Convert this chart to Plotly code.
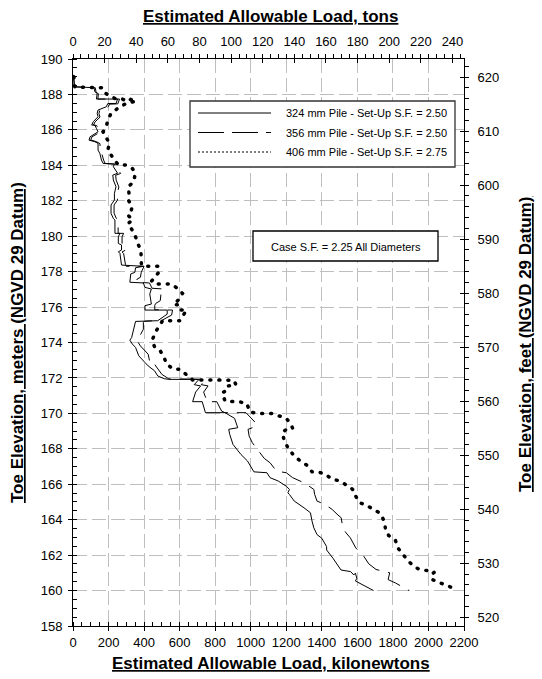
import plotly.graph_objects as go

# ---- 324 mm pile, set-up S.F. = 2.50 (load kN, toe elevation m) ----
load_324 = [3, 8, 118, 123, 136, 132, 251, 242, 196, 187, 141, 136, 141, 114, 105, 123, 132, 141,
            96, 90, 123, 141, 141, 151, 160, 169, 233, 227, 251, 224, 227, 242, 233, 233, 214, 214,
            227, 236, 236, 264, 255, 255, 273, 273, 255, 264, 273, 396, 352, 348, 325, 320, 396,
            405, 441, 432, 441, 405, 405, 530, 530, 477, 352, 343, 330, 320, 334, 352, 370, 405,
            423, 459, 477, 513, 539, 709, 682, 718, 690, 673, 727, 745, 855, 909, 927, 876, 882,
            900, 945, 982, 1009, 1018, 1091, 1109, 1155, 1200, 1218, 1209, 1218, 1245, 1300, 1336,
            1345, 1355, 1373, 1400, 1427, 1427, 1463, 1508, 1562, 1580, 1589, 1597, 1589, 1615,
            1651, 1691]
elev_324 = [189.10, 188.43, 188.38, 188.15, 188.06, 187.74, 187.74, 187.49, 187.49, 187.30, 187.12,
            186.93, 186.74, 186.46, 186.27, 186.27, 186.08, 185.89, 185.61, 185.42, 185.33, 185.24,
            184.86, 184.67, 184.30, 184.11, 184.07, 183.92, 183.55, 183.45, 183.17, 182.79, 182.42,
            182.04, 181.76, 181.29, 181.00, 180.91, 180.16, 180.16, 179.97, 179.59, 179.50, 179.22,
            179.12, 179.03, 178.37, 178.30, 178.22, 177.96, 177.87, 177.40, 177.36, 177.11, 177.02,
            176.74, 176.17, 176.08, 175.83, 175.83, 175.60, 175.23, 175.19, 174.85, 174.28, 174.13,
            173.91, 173.72, 173.25, 172.87, 172.68, 172.40, 172.11, 171.96, 171.92, 171.92, 171.62,
            171.55, 171.20, 170.66, 170.66, 170.04, 170.04, 169.72, 169.19, 169.10, 168.81, 168.25,
            167.68, 167.31, 166.84, 166.70, 166.65, 166.37, 166.18, 165.89, 165.71, 165.52, 165.42,
            165.05, 164.67, 164.39, 163.92, 163.54, 163.16, 162.95, 162.48, 162.29, 161.82, 161.16,
            161.07, 160.88, 160.98, 160.69, 160.54, 160.41, 160.22, 160.00]

# ---- 356 mm pile, set-up S.F. = 2.50 ----
load_356 = [3, 8, 125, 130, 143, 140, 262, 252, 206, 197, 150, 146, 152, 124, 115, 133, 142, 152,
            106, 100, 133, 152, 152, 162, 172, 181, 250, 244, 268, 240, 243, 258, 250, 250, 231, 231,
            244, 254, 254, 285, 276, 276, 295, 295, 276, 285, 295, 300, 400, 384, 379, 361, 355, 430,
            445, 509, 509, 495, 491, 465, 460, 460, 560, 555, 500, 400, 396, 396, 380, 361, 379, 405,
            423, 430, 432, 459, 477, 500, 539, 745, 722, 760, 735, 755, 809, 836, 855, 918, 973, 1036,
            1009, 985, 991, 1009, 1036, 1076, 1109, 1145, 1200, 1236, 1300, 1355, 1360, 1373, 1418,
            1458, 1491, 1509, 1518, 1536, 1560, 1585, 1591, 1609, 1636, 1664, 1705, 1782, 1773, 1814,
            1891]
elev_356 = [189.10, 188.43, 188.38, 188.12, 188.04, 187.74, 187.74, 187.47, 187.45, 187.28, 187.10,
            186.91, 186.72, 186.45, 186.27, 186.25, 186.06, 185.87, 185.60, 185.43, 185.33, 185.22,
            184.85, 184.66, 184.30, 184.10, 184.06, 183.90, 183.54, 183.44, 183.16, 182.78, 182.41,
            182.03, 181.76, 181.30, 181.00, 180.90, 180.16, 180.16, 179.96, 179.58, 179.49, 179.21,
            179.11, 179.02, 178.40, 178.30, 178.30, 177.96, 177.68, 177.58, 177.40, 177.36, 177.06,
            177.02, 176.83, 176.74, 176.36, 176.20, 176.10, 175.85, 175.83, 175.55, 175.25, 175.20,
            175.13, 174.75, 174.45, 174.09, 173.81, 173.53, 173.34, 173.00, 172.77, 172.77, 172.49,
            172.20, 171.95, 171.92, 171.62, 171.55, 171.20, 170.66, 170.66, 170.13, 170.04, 170.04,
            170.04, 169.38, 169.19, 169.10, 168.72, 168.34, 167.97, 167.46, 167.21, 166.74, 166.65,
            166.37, 166.08, 165.71, 165.42, 165.05, 164.86, 164.58, 164.26, 164.11, 163.54, 163.26,
            162.98, 162.56, 162.41, 162.22, 161.94, 161.51, 161.19, 161.00, 160.62, 160.43, 160.00]

# ---- 406 mm pile, set-up S.F. = 2.75 ----
load_406 = [5, 10, 165, 183, 242, 278, 306, 324, 355, 300, 251, 214, 196, 187, 169, 187, 205, 196,
            214, 233, 256, 297, 333, 351, 342, 311, 315, 311, 333, 324, 309, 336, 309, 345, 355, 364,
            382, 382, 385, 396, 441, 480, 486, 459, 441, 477, 512, 552, 593, 616, 598, 566, 598, 605,
            638, 623, 602, 575, 545, 504, 486, 468, 445, 459, 491, 513, 527, 566, 602, 638, 673, 905,
            918, 873, 869, 840, 855, 942, 978, 996, 1036, 1118, 1155, 1200, 1227, 1236, 1200, 1178,
            1187, 1209, 1240, 1276, 1318, 1345, 1382, 1422, 1454, 1491, 1524, 1564, 1582, 1585, 1614,
            1654, 1685, 1724, 1742, 1754, 1758, 1776, 1814, 1827, 1858, 1882, 1918, 1949, 1991, 2033,
            2018, 2022, 2051, 2091, 2127]
elev_406 = [189.00, 188.42, 188.38, 188.06, 187.74, 187.74, 187.59, 187.72, 187.62, 187.50, 187.21,
            186.93, 186.55, 186.18, 185.89, 185.52, 185.24, 184.86, 184.58, 184.30, 184.02, 184.02,
            183.83, 183.58, 183.08, 182.79, 182.42, 182.04, 181.67, 181.29, 181.19, 180.91, 180.72,
            180.16, 179.88, 179.59, 179.22, 178.84, 178.37, 178.30, 178.30, 178.30, 178.00, 177.68,
            177.45, 177.30, 177.30, 177.30, 177.02, 176.77, 176.45, 176.13, 176.13, 175.83, 175.83,
            175.57, 175.23, 175.23, 175.23, 175.23, 174.94, 174.66, 174.13, 173.75, 173.53, 173.15,
            172.77, 172.49, 172.49, 172.17, 171.89, 171.87, 171.60, 171.55, 171.30, 171.17, 170.70,
            170.64, 170.55, 170.08, 170.00, 170.00, 169.89, 169.72, 169.38, 169.15, 169.10, 168.91,
            168.53, 168.06, 167.65, 167.34, 167.06, 166.70, 166.69, 166.55, 166.31, 166.21, 166.04,
            165.80, 165.61, 165.42, 164.95, 164.80, 164.61, 164.39, 164.11, 163.82, 163.48, 163.11,
            162.84, 162.41, 162.03, 161.71, 161.37, 161.19, 161.13, 161.04, 160.90, 160.62, 160.49,
            160.34, 160.19]

legend_labels = ["324 mm Pile - Set-Up S.F. = 2.50",
                 "356 mm Pile - Set-Up S.F. = 2.50",
                 "406 mm Pile - Set-Up S.F. = 2.75"]
case_note = "Case S.F. = 2.25 All Diameters"

KN_PER_TON = 8.896443
FT_PER_M = 3.280840
KN_RANGE = [0, 2200]
M_RANGE = [158, 190]
TON_RANGE = [KN_RANGE[0] / KN_PER_TON, KN_RANGE[1] / KN_PER_TON]
FT_RANGE = [M_RANGE[0] * FT_PER_M, M_RANGE[1] * FT_PER_M]

FONT = "Arial, Liberation Sans, sans-serif"
TICKFONT = dict(family=FONT, size=13, color="black")

fig = go.Figure()
fig.add_trace(go.Scatter(x=load_324, y=elev_324, mode="lines",
                         line=dict(color="black", width=1), showlegend=False, hoverinfo="skip"))
fig.add_trace(go.Scatter(x=load_356, y=elev_356, mode="lines",
                         line=dict(color="black", width=1, dash="22px,9px"),
                         showlegend=False, hoverinfo="skip"))
fig.add_trace(go.Scatter(x=load_406, y=elev_406, mode="lines",
                         line=dict(color="black", width=3.5, dash="1px,8px"),
                         showlegend=False, hoverinfo="skip"))

# empty traces so every secondary axis has a subplot to live on
for xa, ya in [("x2", "y"), ("x", "y2"), ("x3", "y"), ("x4", "y"), ("x", "y3"), ("x", "y4")]:
    fig.add_trace(go.Scatter(x=[None], y=[None], xaxis=xa, yaxis=ya, mode="lines",
                             showlegend=False, hoverinfo="skip"))

grid = dict(showgrid=True, gridcolor="#bebebe", gridwidth=1, griddash="14px,5px")
line = dict(showline=True, linecolor="black", linewidth=1, zeroline=False)
major = dict(ticks="outside", ticklen=4, tickwidth=1, tickcolor="black")
cross = dict(ticks="inside", ticklen=4, tickwidth=1, tickcolor="black",
             showticklabels=False, showgrid=False, showline=False, zeroline=False)

fig.update_layout(
    width=542, height=679, autosize=False,
    margin=dict(l=73, r=78, t=59, b=53),
    paper_bgcolor="white", plot_bgcolor="white",
    showlegend=False,
    xaxis=dict(range=KN_RANGE, tickmode="linear", tick0=0, dtick=200, side="bottom",
               tickfont=TICKFONT, **major, **line, **grid,
               minor=dict(tick0=0, dtick=50, ticks="inside", ticklen=4, tickcolor="black",
                          showgrid=False)),
    xaxis2=dict(range=TON_RANGE, overlaying="x", side="top", anchor="y",
                tickmode="linear", tick0=0, dtick=20, tickfont=TICKFONT, showgrid=False,
                ticklabelstandoff=3, **major, **line,
                minor=dict(tick0=0, dtick=5, ticks="outside", ticklen=4, tickcolor="black",
                           showgrid=False)),
    xaxis3=dict(range=KN_RANGE, overlaying="x", side="bottom", anchor="y",
                tickmode="linear", tick0=0, dtick=200, **cross),
    xaxis4=dict(range=TON_RANGE, overlaying="x", side="top", anchor="y",
                tickmode="linear", tick0=0, dtick=20, **cross),
    yaxis=dict(range=M_RANGE, tickmode="linear", tick0=158, dtick=2, side="left",
               tickfont=TICKFONT, ticklabelstandoff=3, **major, **line, **grid,
               minor=dict(tick0=158, dtick=0.5, ticks="inside", ticklen=4, tickcolor="black",
                          showgrid=False)),
    yaxis2=dict(range=FT_RANGE, overlaying="y", side="right", anchor="x",
                tickmode="linear", tick0=520, dtick=10, tickfont=TICKFONT, showgrid=False,
                ticklabelstandoff=6, **major, **line,
                minor=dict(tick0=520, dtick=2, ticks="outside", ticklen=4, tickcolor="black",
                           showgrid=False)),
    yaxis3=dict(range=M_RANGE, overlaying="y", side="left", anchor="x",
                tickmode="linear", tick0=158, dtick=2, **cross),
    yaxis4=dict(range=FT_RANGE, overlaying="y", side="right", anchor="x",
                tickmode="linear", tick0=520, dtick=10, **cross),
)

# plot-area pixel helpers for the paper-positioned decorations
L, T, W, H = 73, 59, 391, 567


def px(x):
    return (x - L) / W


def py(y):
    return (T + H - y) / H


title_font = dict(family=FONT, size=17, color="black", weight="bold", lineposition="under")
fig.add_annotation(text="Estimated Allowable Load, tons", x=px(270), y=py(17),
                   xref="paper", yref="paper", showarrow=False, font=title_font,
                   xanchor="center", yanchor="middle")
fig.add_annotation(text="Estimated Allowable Load, kilonewtons", x=px(271), y=py(663),
                   xref="paper", yref="paper", showarrow=False, font=title_font,
                   xanchor="center", yanchor="middle")
fig.add_annotation(text="Toe Elevation, meters (NGVD 29 Datum)", x=px(17), y=py(343),
                   xref="paper", yref="paper", showarrow=False, font=title_font, textangle=-90,
                   xanchor="center", yanchor="middle")
fig.add_annotation(text="Toe Elevation, feet (NGVD 29 Datum)", x=px(525), y=py(345),
                   xref="paper", yref="paper", showarrow=False, font=title_font, textangle=-90,
                   xanchor="center", yanchor="middle")

# legend box
fig.add_shape(type="rect", xref="paper", yref="paper", x0=px(190), x1=px(455),
              y0=py(167), y1=py(101), line=dict(color="#333333", width=1.3),
              fillcolor="white", layer="above")
row_y = [113, 132.5, 152]
row_dash = ["solid", "26px,8px", "2px,2px"]
for ry, dsh, lab in zip(row_y, row_dash, legend_labels):
    fig.add_shape(type="line", xref="paper", yref="paper", x0=px(198), x1=px(271),
                  y0=py(ry), y1=py(ry), line=dict(color="black", width=1, dash=dsh),
                  layer="above")
    fig.add_annotation(text=lab, x=px(449), y=py(ry), xref="paper", yref="paper",
                       showarrow=False, xanchor="right", yanchor="middle",
                       font=dict(family=FONT, size=11, color="black"))

# design-case note
fig.add_shape(type="rect", xref="paper", yref="paper", x0=px(253), x1=px(438),
              y0=py(261), y1=py(231), line=dict(color="black", width=1.3),
              fillcolor="white", layer="above")
fig.add_annotation(text=case_note, x=px(345.5), y=py(246.5), xref="paper", yref="paper",
                   showarrow=False, xanchor="center", yanchor="middle",
                   font=dict(family=FONT, size=11, color="black"))

post = """
document.body.style.margin = '0';
var gd = document.getElementById('{plot_id}');
gd.querySelectorAll('path.js-line').forEach(function (p) {
    if (p.style.strokeWidth === '3.5px') { p.style.strokeLinecap = 'round'; }
});
"""
fig.write_html("out.html", post_script=post)
